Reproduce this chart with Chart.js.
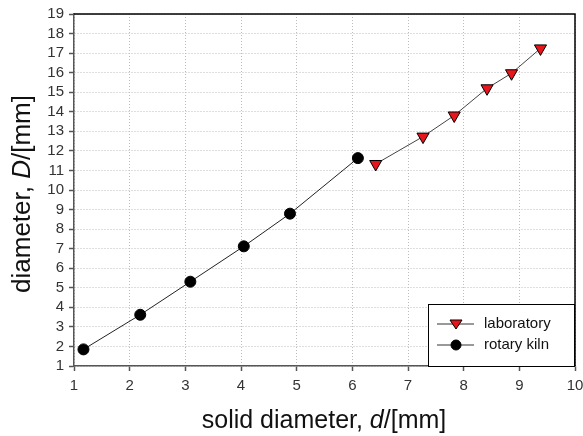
<!DOCTYPE html>
<html>
<head>
<meta charset="utf-8">
<script src="https://cdn.jsdelivr.net/npm/chart.js@4"></script>
<style>
  body { margin: 0; background: #fff; }
  #wrap { width: 583px; height: 436px; }
</style>
</head>
<body>
<div id="wrap"><canvas id="chart"></canvas></div>
<script>
// laboratory series
const lab_x = [6.42, 7.27, 7.83, 8.42, 8.86, 9.38];
const lab_y = [11.33, 12.73, 13.81, 15.20, 15.97, 17.24];
// rotary kiln series
const kiln_x = [1.17, 2.19, 3.09, 4.05, 4.88, 6.10];
const kiln_y = [1.85, 3.62, 5.31, 7.12, 8.79, 11.63];

const x_ticks = [1, 2, 3, 4, 5, 6, 7, 8, 9, 10];
const y_ticks = [1, 2, 3, 4, 5, 6, 7, 8, 9, 10, 11, 12, 13, 14, 15, 16, 17, 18, 19];

const series_names = ['laboratory', 'rotary kiln'];

function toPoints(xs, ys){
    return xs.map((x, i) => ({x: x, y: ys[i]}));
}

const FONT = '"Liberation Sans", Arial, sans-serif';

// frame, titles and legend
const extras = {
    id: 'extras',
    beforeDatasetsDraw(chart){
        const ctx = chart.ctx;
        const a = chart.chartArea;
        ctx.save();
        ctx.strokeStyle = '#000';
        ctx.lineWidth = 1.5;
        ctx.beginPath();
        ctx.moveTo(a.left, a.top);
        ctx.lineTo(a.right, a.top);
        ctx.lineTo(a.right, a.bottom);
        ctx.stroke();
        ctx.restore();
    },
    afterDraw(chart){
        const ctx = chart.ctx;
        const a = chart.chartArea;
        ctx.save();
        ctx.fillStyle = '#111';
        ctx.textBaseline = 'middle';

        // x title
        const xParts = [['solid diameter, ', ''], ['d', 'italic '], ['/[mm]', '']];
        drawParts(ctx, xParts, 324, 421, 25);

        // y title
        ctx.save();
        ctx.translate(23, 194);
        ctx.rotate(-Math.PI / 2);
        const yParts = [['diameter, ', ''], ['D', 'italic '], ['/[mm]', '']];
        drawParts(ctx, yParts, 0, 0, 26);
        ctx.restore();

        // legend
        const lx = 428, ly = 304, lw = a.right - lx, lh = a.bottom - ly;
        ctx.fillStyle = '#fff';
        ctx.fillRect(lx, ly, lw, lh);
        ctx.strokeStyle = '#000';
        ctx.lineWidth = 1;
        ctx.strokeRect(lx + 0.5, ly + 0.5, lw - 1, lh);
        const rows = [324, 345];
        chart.data.datasets.forEach((ds, i) => {
            const yy = rows[i];
            ctx.strokeStyle = '#333';
            ctx.lineWidth = 1;
            ctx.beginPath();
            ctx.moveTo(437, yy);
            ctx.lineTo(474, yy);
            ctx.stroke();
            ctx.fillStyle = ds.pointBackgroundColor;
            ctx.strokeStyle = '#000';
            ctx.beginPath();
            if (ds.pointStyle === 'triangle') {
                ctx.moveTo(450, yy - 4);
                ctx.lineTo(462, yy - 4);
                ctx.lineTo(456, yy + 5);
                ctx.closePath();
            } else {
                ctx.arc(456, yy, 5, 0, Math.PI * 2);
            }
            ctx.fill();
            ctx.stroke();
            ctx.fillStyle = '#111';
            ctx.font = '15px ' + FONT;
            ctx.textAlign = 'left';
            ctx.fillText(ds.label, 484, yy);
        });
        ctx.restore();
    }
};

function drawParts(ctx, parts, cx, cy, size){
    let total = 0;
    parts.forEach(p => {
        ctx.font = p[1] + size + 'px ' + FONT;
        total += ctx.measureText(p[0]).width;
    });
    let x = cx - total / 2;
    ctx.textAlign = 'left';
    parts.forEach(p => {
        ctx.font = p[1] + size + 'px ' + FONT;
        ctx.fillText(p[0], x, cy);
        x += ctx.measureText(p[0]).width;
    });
}

const gridOpts = {
    color: '#bdbdbd',
    lineWidth: 1,
    drawTicks: true,
    tickLength: 5,
    tickColor: '#555',
    tickWidth: 1.5,
    tickBorderDash: []
};
const borderOpts = { color: '#555', width: 1.5, dash: [1, 2] };

new Chart(document.getElementById('chart'), {
    type: 'scatter',
    data: {
        datasets: [{
            label: series_names[0],
            data: toPoints(lab_x, lab_y),
            showLine: true,
            borderColor: '#444',
            borderWidth: 1,
            pointStyle: 'triangle',
            rotation: 180,
            pointRadius: 7,
            pointBackgroundColor: '#e8161c',
            pointBorderColor: '#000',
            pointBorderWidth: 1
        }, {
            label: series_names[1],
            data: toPoints(kiln_x, kiln_y),
            showLine: true,
            borderColor: '#222',
            borderWidth: 1,
            pointStyle: 'circle',
            pointRadius: 5.5,
            pointBackgroundColor: '#000',
            pointBorderColor: '#000',
            pointBorderWidth: 1
        }]
    },
    options: {
        responsive: true,
        maintainAspectRatio: false,
        animation: false,
        events: [],
        layout: { padding: { top: 14, right: 7, left: 0, bottom: 0 } },
        plugins: { legend: { display: false }, tooltip: { enabled: false } },
        scales: {
            x: {
                type: 'linear',
                min: 1, max: 10,
                afterBuildTicks: (s) => { s.ticks = x_ticks.map(v => ({value: v})); },
                afterFit: (s) => { s.height = 70; s.paddingLeft = 0; s.paddingRight = 0; },
                grid: gridOpts,
                border: borderOpts,
                ticks: { color: '#333', font: { family: FONT, size: 15 }, padding: 6, autoSkip: false, maxRotation: 0 }
            },
            y: {
                type: 'linear',
                min: 1, max: 19,
                afterBuildTicks: (s) => { s.ticks = y_ticks.map(v => ({value: v})); },
                afterFit: (s) => { s.width = 74; s.paddingTop = 0; s.paddingBottom = 0; },
                grid: gridOpts,
                border: borderOpts,
                ticks: { color: '#333', font: { family: FONT, size: 15 }, padding: 5, autoSkip: false }
            }
        }
    },
    plugins: [extras]
});
</script>
</body>
</html>
